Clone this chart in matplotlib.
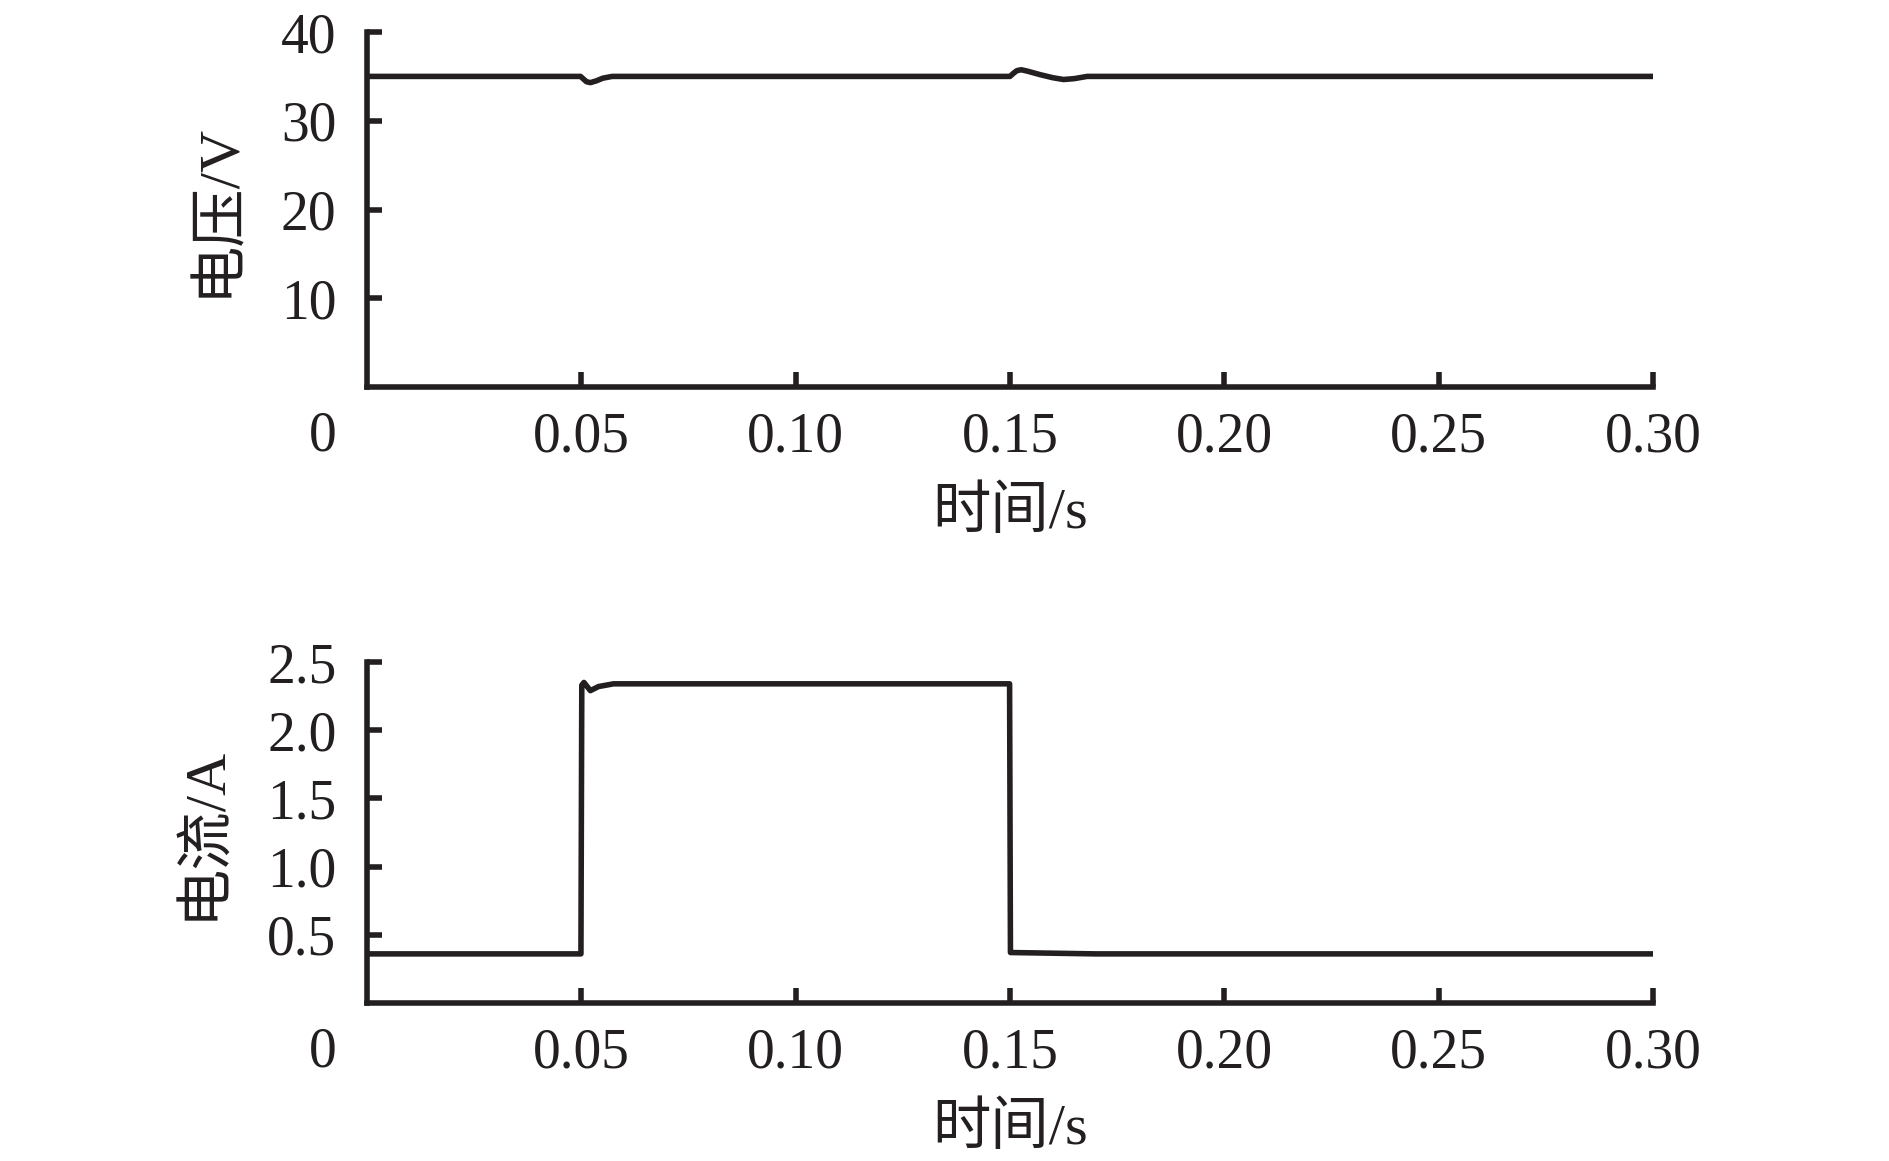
import numpy as np
import matplotlib.pyplot as plt

# voltage trace
t_volt = [0.0, 0.0498, 0.0505, 0.0512, 0.0521, 0.0535, 0.055, 0.0572,
          0.1500, 0.1508, 0.1516, 0.1526, 0.1540, 0.1570, 0.1600, 0.1625,
          0.1650, 0.1680, 0.30]
volt = [35.0, 35.0, 34.7, 34.4, 34.3, 34.5, 34.8, 35.0,
        35.0, 35.35, 35.65, 35.75, 35.6, 35.2, 34.85, 34.65,
        34.75, 35.0, 35.0]

# current trace
t_curr = [0.0, 0.0499, 0.0501, 0.0506, 0.0521, 0.0540, 0.0575,
          0.1499, 0.1501, 0.1600, 0.1700, 0.30]
curr = [0.36, 0.36, 2.33, 2.35, 2.29, 2.32, 2.34,
        2.34, 0.37, 0.365, 0.36, 0.36]

xticks = [0.05, 0.10, 0.15, 0.20, 0.25, 0.30]
xticklabels = ["0.05", "0.10", "0.15", "0.20", "0.25", "0.30"]
volt_ticks = [10, 20, 30, 40]
curr_ticks = [0.5, 1.0, 1.5, 2.0, 2.5]
curr_ticklabels = ["0.5", "1.0", "1.5", "2.0", "2.5"]

fonts = ["Liberation Serif", "Noto Sans CJK SC"]
plt.rcParams["font.family"] = fonts
plt.rcParams["font.size"] = 40

ink = "#231f20"
lw = 4.0

fig = plt.figure(figsize=(18.9, 11.61), dpi=100)
ax1 = fig.add_axes([0.1942, 0.6667, 0.6804, 0.3057])
ax2 = fig.add_axes([0.1942, 0.1361, 0.6804, 0.2937])

panels = [
    (ax1, t_volt, volt, (0, 40), volt_ticks, [str(v) for v in volt_ticks], "电压/V"),
    (ax2, t_curr, curr, (0, 2.5), curr_ticks, curr_ticklabels, "电流/A"),
]

for ax, t, y, ylim, yt, ytl, ylab in panels:
    ax.plot(t, y, color=ink, lw=lw, solid_joinstyle="round")
    ax.set_xlim(0, 0.30)
    ax.set_ylim(*ylim)
    ax.set_xticks(xticks)
    ax.set_xticklabels(xticklabels)
    ax.set_yticks(yt)
    ax.set_yticklabels(ytl)
    for s in ["top", "right"]:
        ax.spines[s].set_visible(False)
    for s in ["left", "bottom"]:
        ax.spines[s].set_linewidth(lw)
        ax.spines[s].set_color(ink)
    ax.tick_params(axis="both", direction="in", length=11, width=lw,
                   color=ink, labelcolor=ink)
    ax.tick_params(axis="x", pad=18)
    ax.tick_params(axis="y", pad=22)
    ax.set_xlabel("时间/s", color=ink, fontsize=42, labelpad=16)
    ax.set_ylabel(ylab, color=ink, fontsize=42, labelpad=26)
    ax.annotate("0", xy=(0, 0), xycoords="axes fraction",
                xytext=(-32, -36), textcoords="offset points",
                ha="center", va="center", color=ink)

plt.savefig("out.png", dpi=100)
plt.close()
